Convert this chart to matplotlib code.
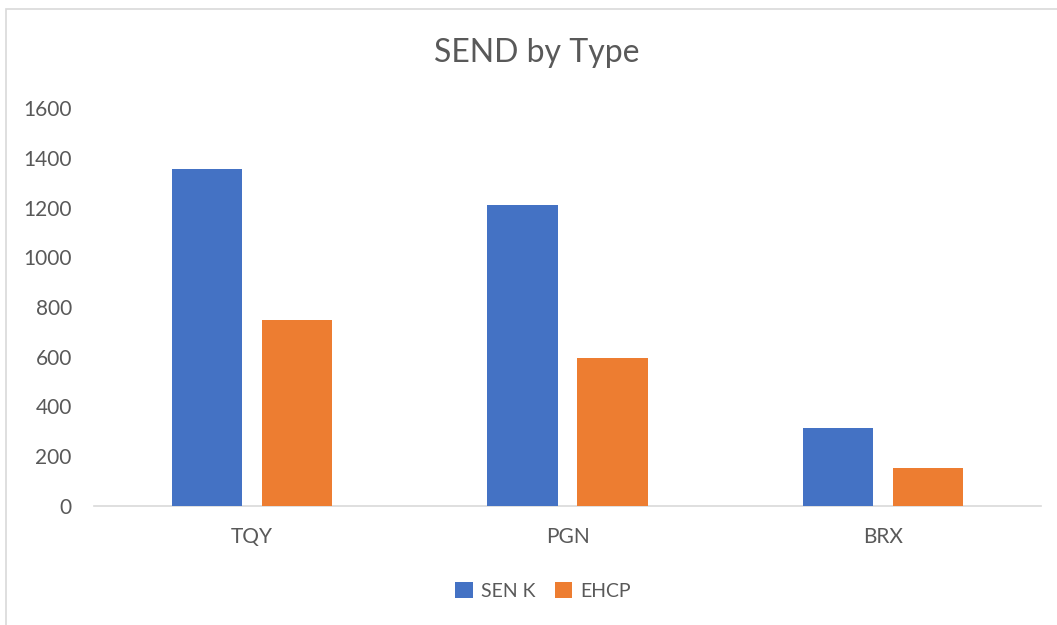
import matplotlib
matplotlib.use("Agg")
import matplotlib.pyplot as plt
import numpy as np
from matplotlib.patches import Rectangle

categories = ["TQY", "PGN", "BRX"]
sen_k = [1355, 1210, 315]
ehcp = [748, 595, 152]
series_names = ["SEN K", "EHCP"]
yticks = [0, 200, 400, 600, 800, 1000, 1200, 1400, 1600]

plt.rcParams['font.family'] = ['Lato', 'DejaVu Sans']
text_color = "#595959"

fig = plt.figure(figsize=(10.57, 6.25), dpi=100)
ax = fig.add_axes([94/1057, 1-506/625, (1041-94)/1057, (506-108)/625])

x = np.arange(len(categories))
w = 0.222
off = 0.1425
ax.bar(x - off, sen_k, width=w, color="#4472C4", label=series_names[0], zorder=3)
ax.bar(x + off, ehcp, width=w, color="#ED7D31", label=series_names[1], zorder=3)

ax.set_xlim(-0.5, 2.5)
ax.set_ylim(0, 1600)
ax.set_yticks(yticks)
ax.set_yticklabels([str(v) for v in yticks])
ax.set_xticks(x)
ax.set_xticklabels(categories)
for s in ["top", "right", "left"]:
    ax.spines[s].set_visible(False)
ax.spines["bottom"].set_color("#d9d9d9")
ax.spines["bottom"].set_linewidth(1.2)
ax.tick_params(axis="both", length=0, colors=text_color, labelsize=15)
ax.tick_params(axis="y", pad=16)
ax.tick_params(axis="x", pad=15)

fig.text(537/1057, 1-53/625, "SEND by Type", ha="center", va="center",
         fontsize=23, color=text_color)

leg = fig.legend(loc="center", bbox_to_anchor=(543/1057, 1-591/625), ncol=2,
                 frameon=False, fontsize=14, handlelength=0.9, handleheight=0.9,
                 handletextpad=0.4, columnspacing=1.0)
for t in leg.get_texts():
    t.set_color(text_color)

fig.patches.append(Rectangle((5.5/1057, -0.1), 1.2, 1.1 - 8.5/625 + 0.0,
                             transform=fig.transFigure, fill=False,
                             edgecolor="#d9d9d9", linewidth=1.2))

fig.savefig("out.png", dpi=100)
